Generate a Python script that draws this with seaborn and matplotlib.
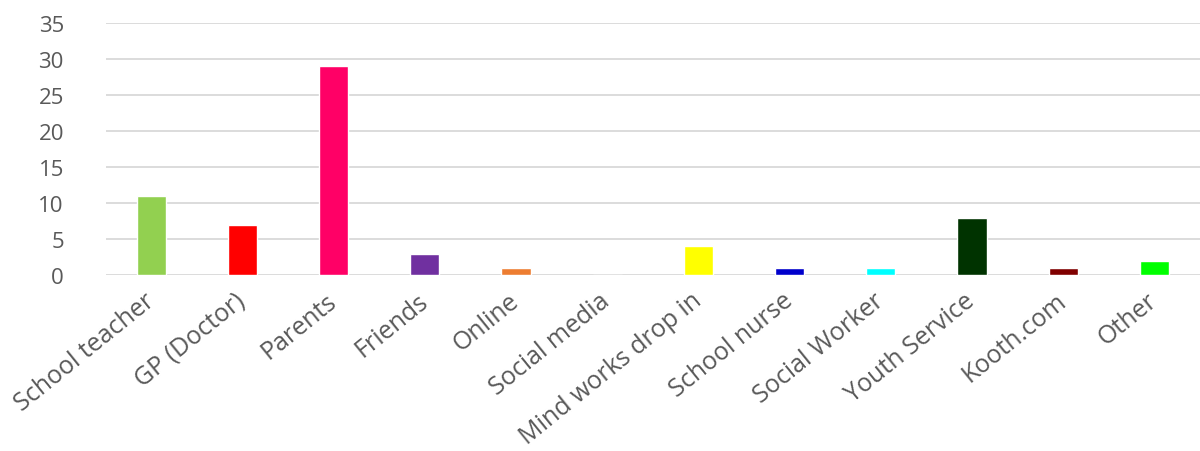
import matplotlib
matplotlib.use("Agg")
import matplotlib.pyplot as plt
import seaborn as sns
import pandas as pd

categories = ["School teacher", "GP (Doctor)", "Parents", "Friends", "Online", "Social media",
              "Mind works drop in", "School nurse", "Social Worker", "Youth Service", "Kooth.com", "Other"]
values = [11, 7, 29, 3, 1, 0, 4, 1, 1, 8, 1, 2]
colors = ["#92d050", "#ff0000", "#ff0066", "#7030a0", "#ed7d31", "#a5a5a5",
          "#ffff00", "#0000cc", "#00ffff", "#003300", "#800000", "#00ff00"]
y_ticks = [0, 5, 10, 15, 20, 25, 30, 35]

sns.set_theme(style="white")
plt.rcParams['font.family'] = ['Open Sans', 'DejaVu Sans']

df = pd.DataFrame({"cat": categories, "val": values})
fig = plt.figure(figsize=(12, 4.52), dpi=100)
ax = fig.add_axes([0.088, 0.389, 0.912, 0.558])
sns.barplot(data=df, x="cat", y="val", hue="cat", palette=colors, legend=False,
            width=0.32, saturation=1, ax=ax, zorder=3)
ax.set_ylim(0, 35)
ax.set_xlim(-0.5, len(categories) - 0.5)
ax.set_yticks(y_ticks)
ax.yaxis.grid(True, color="#d9d9d9", linewidth=1.3, zorder=0)
ax.set_axisbelow(True)
for s in ax.spines.values():
    s.set_visible(False)
ax.set_xlabel("")
ax.set_ylabel("")
ax.tick_params(axis="both", length=0, labelcolor="#595959")
ax.tick_params(axis="y", labelsize=16, pad=30)
ax.tick_params(axis="x", labelsize=18, pad=16)
ax.set_xticks(range(len(categories)))
ax.set_xticklabels(categories, rotation=39, ha="right", va="center", rotation_mode="anchor")
fig.savefig("out.png", dpi=100)
